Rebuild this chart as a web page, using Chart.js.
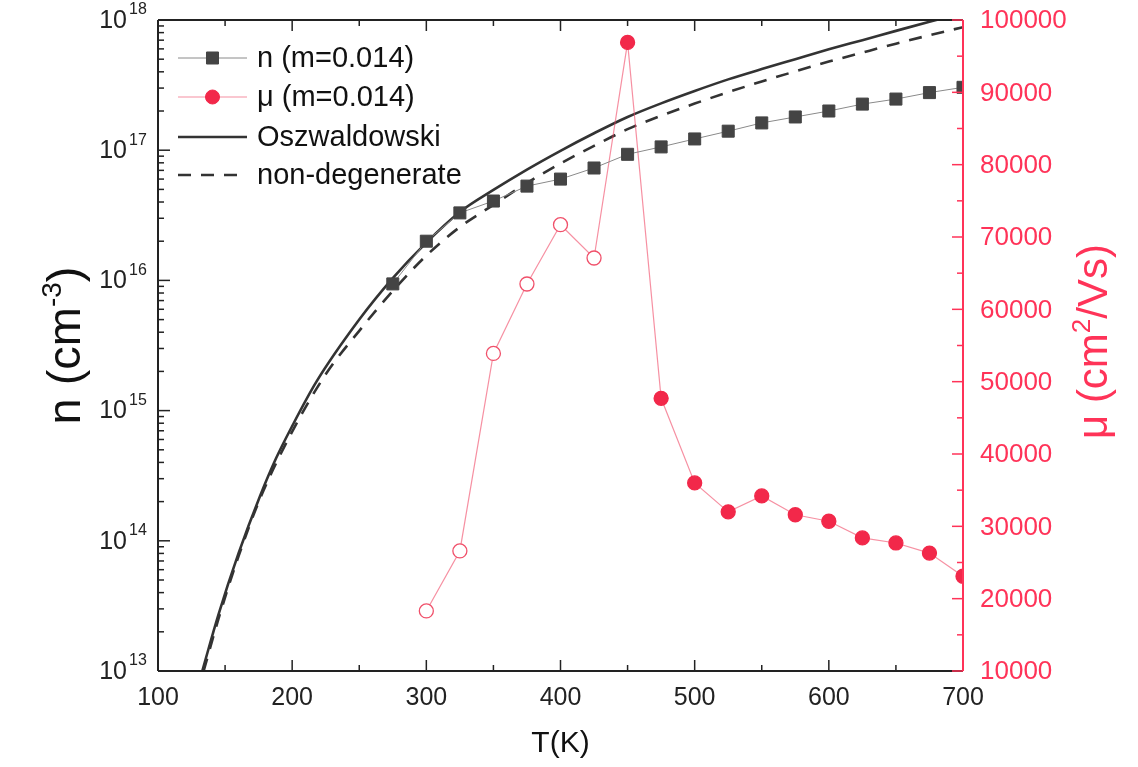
<!DOCTYPE html>
<html>
<head>
<meta charset="utf-8">
<title>Carrier density and mobility vs temperature</title>
<script src="https://cdn.jsdelivr.net/npm/chart.js@4.4.1/dist/chart.umd.min.js"></script>
<style>
  body { margin: 0; background: #fff; }
  canvas { display: block; }
</style>
</head>
<body>
<canvas id="chart" width="1138" height="767"></canvas>
<script>
// measured carrier density n (m=0.014)
const tempN = [275, 300, 325, 350, 375, 400, 425, 450, 475, 500, 525, 550, 575, 600, 625, 650, 675, 700];
const nMeasured = [9.4e15, 2.0e16, 3.3e16, 4.07e16, 5.3e16, 6.0e16, 7.3e16, 9.3e16, 1.06e17, 1.22e17,
    1.40e17, 1.62e17, 1.80e17, 2.0e17, 2.26e17, 2.47e17, 2.77e17, 3.04e17];

// measured mobility mu (m=0.014), open symbols below 450 K
const tempMu = [300, 325, 350, 375, 400, 425, 450, 475, 500, 525, 550, 575, 600, 625, 650, 675, 700];
const muMeasured = [18300, 26600, 53900, 63500, 71700, 67100, 96900, 47700, 36000, 32000,
    34200, 31600, 30700, 28400, 27700, 26300, 23100];
const muOpenBelow = 450;

// model curves
const tempOsz = [133, 145, 160, 176, 188, 200, 218, 250, 275, 300, 325, 350, 375, 400, 425, 450,
    475, 500, 525, 550, 575, 600, 625, 650, 675, 700];
const nOsz = [1.0e13, 2.7e13, 8.0e13, 2.2e14, 4.3e14, 7.6e14, 1.66e15, 5.0e15, 1.04e16, 1.95e16,
    3.35e16, 4.95e16, 7.1e16, 9.9e16, 1.35e17, 1.8e17, 2.29e17, 2.85e17, 3.5e17, 4.2e17,
    5.0e17, 5.95e17, 7.0e17, 8.25e17, 9.7e17, 1.13e18];
const tempNonDeg = [134, 145, 160, 176, 200, 225, 250, 275, 300, 325, 350, 375, 400, 425, 450,
    475, 500, 525, 550, 575, 600, 625, 650, 675, 700];
const nNonDeg = [1.0e13, 2.5e13, 7.6e13, 2.1e14, 6.9e14, 1.9e15, 4.1e15, 8.3e15, 1.55e16, 2.57e16,
    3.8e16, 5.6e16, 7.9e16, 1.08e17, 1.45e17, 1.84e17, 2.28e17, 2.79e17, 3.37e17, 4.03e17,
    4.79e17, 5.62e17, 6.58e17, 7.64e17, 8.81e17];

// axis ticks
const tTicks = [100, 200, 300, 400, 500, 600, 700];
const nTickExp = [13, 14, 15, 16, 17, 18];
const muTicks = [10000, 20000, 30000, 40000, 50000, 60000, 70000, 80000, 90000, 100000];

const FONT = '"Liberation Sans", Arial, sans-serif';
const RED = '#f2284a';
const AXIS_RED = '#ff3358';
const DARK = '#444';

const pts = (xs, ys) => xs.map((x, i) => ({x: x, y: ys[i]}));

const line = (ctx, x1, y1, x2, y2) => {
    ctx.beginPath();
    ctx.moveTo(x1, y1);
    ctx.lineTo(x2, y2);
    ctx.stroke();
}

// text with a raised part, drawn left to right from x
const drawParts = (ctx, parts, x, y) => {
    parts.forEach(p => {
        ctx.font = p.size + 'px ' + FONT;
        ctx.fillText(p.text, x, y - (p.raise || 0));
        x += ctx.measureText(p.text).width;
    })
}

const partsWidth = (ctx, parts) => {
    let w = 0;
    parts.forEach(p => {
        ctx.font = p.size + 'px ' + FONT;
        w += ctx.measureText(p.text).width;
    })
    return w;
}

const rotatedTitle = (ctx, parts, x, y, color) => {
    ctx.save();
    ctx.translate(x, y);
    ctx.rotate(-Math.PI / 2);
    ctx.fillStyle = color;
    ctx.textAlign = 'left';
    ctx.textBaseline = 'alphabetic';
    drawParts(ctx, parts, -partsWidth(ctx, parts) / 2, 0);
    ctx.restore();
}

// frame, inward ticks, tick labels and axis titles
const axesPlugin = {
    id: 'axesPlugin',
    afterDatasetsDraw(chart) {
        const {ctx, chartArea: a, scales} = chart;
        const xs = scales.x, ys = scales.y, ms = scales.y1;
        ctx.save();

        ctx.strokeStyle = '#222';
        ctx.lineWidth = 1.5;
        for (let t = tTicks[0]; t <= tTicks[tTicks.length - 1]; t += 50) {
            const px = xs.getPixelForValue(t);
            const len = tTicks.includes(t) ? 11 : 6;
            line(ctx, px, a.bottom, px, a.bottom - len);
            line(ctx, px, a.top, px, a.top + len);
        }
        nTickExp.forEach(e => {
            for (let m = 1; m <= 9; m++) {
                if (e === nTickExp[nTickExp.length - 1] && m > 1) break;
                const py = ys.getPixelForValue(m * Math.pow(10, e));
                line(ctx, a.left, py, a.left + (m === 1 ? 12 : 6), py);
            }
        })

        ctx.lineWidth = 2;
        line(ctx, a.left, a.top, a.left, a.bottom);
        line(ctx, a.left, a.bottom, a.right, a.bottom);
        line(ctx, a.left, a.top, a.right, a.top);

        ctx.strokeStyle = AXIS_RED;
        ctx.lineWidth = 1.5;
        for (let v = muTicks[0]; v <= muTicks[muTicks.length - 1]; v += 5000) {
            const py = ms.getPixelForValue(v);
            line(ctx, a.right, py, a.right - (muTicks.includes(v) ? 11 : 6), py);
        }
        ctx.lineWidth = 2;
        line(ctx, a.right, a.top, a.right, a.bottom);

        // bottom labels
        ctx.fillStyle = '#222';
        ctx.font = '25px ' + FONT;
        ctx.textAlign = 'center';
        ctx.textBaseline = 'middle';
        tTicks.forEach(t => {
            ctx.fillText(String(t), xs.getPixelForValue(t), a.bottom + 27);
        })

        // left labels 10^e
        nTickExp.forEach(e => {
            const py = ys.getPixelForValue(Math.pow(10, e));
            ctx.font = '25px ' + FONT;
            ctx.textAlign = 'right';
            ctx.fillText('10', a.left - 31, py + 1);
            ctx.font = '16px ' + FONT;
            ctx.textAlign = 'left';
            ctx.fillText(String(e), a.left - 29, py - 10);
        })

        // right labels
        ctx.fillStyle = AXIS_RED;
        ctx.font = '26px ' + FONT;
        ctx.textAlign = 'left';
        muTicks.forEach(v => {
            ctx.fillText(String(v), a.right + 17, ms.getPixelForValue(v) + 1);
        })

        // titles
        ctx.fillStyle = '#111';
        ctx.font = '30px ' + FONT;
        ctx.textAlign = 'center';
        ctx.fillText('T(K)', (a.left + a.right) / 2, a.bottom + 73);

        rotatedTitle(ctx, [
            {text: 'n (cm', size: 47},
            {text: '-3', size: 28, raise: 19},
            {text: ')', size: 47}
        ], 80, (a.top + a.bottom) / 2, '#111');

        rotatedTitle(ctx, [
            {text: 'μ (cm', size: 42},
            {text: '2', size: 26, raise: 17},
            {text: '/Vs)', size: 42}
        ], 1107, (a.top + a.bottom) / 2 - 4, AXIS_RED);

        ctx.restore();
    }
}

// legend in the upper left corner of the plot
const legendPlugin = {
    id: 'legendPlugin',
    afterDatasetsDraw(chart) {
        const {ctx, chartArea: a} = chart;
        const ds = chart.data.datasets;
        const x0 = a.left + 20, x1 = a.left + 89, xm = (x0 + x1) / 2;
        const rows = [38, 77, 117, 155];
        ctx.save();
        ds.forEach((d, i) => {
            const y = a.top + rows[i];
            ctx.strokeStyle = d.borderColor;
            ctx.lineWidth = d.borderWidth;
            ctx.setLineDash(d.borderDash || []);
            line(ctx, x0, y, x1, y);
            ctx.setLineDash([]);
            if (d.pointRadius > 0) {
                ctx.fillStyle = d.legendFill;
                ctx.strokeStyle = d.legendFill;
                ctx.lineWidth = 1;
                Chart.helpers.drawPoint(ctx, {pointStyle: d.pointStyle, radius: d.pointRadius, borderWidth: 1}, xm, y);
            }
            ctx.fillStyle = '#111';
            ctx.font = '29px ' + FONT;
            ctx.textAlign = 'left';
            ctx.textBaseline = 'middle';
            ctx.fillText(d.label, x1 + 10, y + 1);
        })
        ctx.restore();
    }
}

const chart = new Chart(document.getElementById('chart'), {
    type: 'line',
    data: {
        datasets: [{
            label: 'n (m=0.014)',
            data: pts(tempN, nMeasured),
            yAxisID: 'y',
            borderColor: '#8a8a8a',
            borderWidth: 1,
            pointStyle: 'rect',
            pointRadius: 8.5,
            pointBackgroundColor: DARK,
            pointBorderColor: DARK,
            pointBorderWidth: 1,
            legendFill: DARK
        }, {
            label: 'μ (m=0.014)',
            data: pts(tempMu, muMeasured),
            yAxisID: 'y1',
            borderColor: 'rgba(240, 70, 100, 0.6)',
            borderWidth: 1.2,
            pointStyle: 'circle',
            pointRadius: 7,
            pointBackgroundColor: c => tempMu[c.dataIndex] < muOpenBelow ? '#fff' : RED,
            pointBorderColor: c => tempMu[c.dataIndex] < muOpenBelow ? '#f0506a' : RED,
            pointBorderWidth: 1.3,
            legendFill: RED
        }, {
            label: 'Oszwaldowski',
            data: pts(tempOsz, nOsz),
            yAxisID: 'y',
            borderColor: '#333',
            borderWidth: 2.6,
            pointRadius: 0,
            cubicInterpolationMode: 'monotone'
        }, {
            label: 'non-degenerate',
            data: pts(tempNonDeg, nNonDeg),
            yAxisID: 'y',
            borderColor: '#333',
            borderWidth: 2.6,
            borderDash: [13, 10],
            pointRadius: 0,
            cubicInterpolationMode: 'monotone'
        }]
    },
    options: {
        responsive: false,
        animation: false,
        devicePixelRatio: 1,
        layout: {
            padding: {top: 20, left: 0, right: 0, bottom: 0}
        },
        plugins: {
            legend: {display: false},
            tooltip: {enabled: false}
        },
        scales: {
            x: {
                type: 'linear',
                position: 'bottom',
                min: 100,
                max: 700,
                grid: {display: false},
                border: {display: false},
                ticks: {display: false},
                afterFit: s => { s.height = 96; }
            },
            y: {
                type: 'logarithmic',
                position: 'left',
                min: 1e13,
                max: 1e18,
                grid: {display: false},
                border: {display: false},
                ticks: {display: false},
                afterFit: s => { s.width = 158; }
            },
            y1: {
                type: 'linear',
                position: 'right',
                min: 10000,
                max: 100000,
                grid: {display: false},
                border: {display: false},
                ticks: {display: false},
                afterFit: s => { s.width = 175; }
            }
        }
    },
    plugins: [axesPlugin, legendPlugin]
});
</script>
</body>
</html>
